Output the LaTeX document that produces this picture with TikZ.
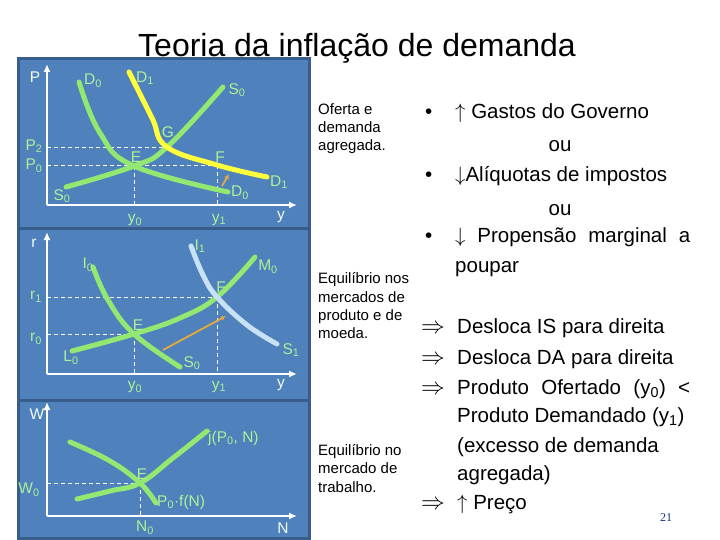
\documentclass[tikz,border=0pt]{standalone}
\usepackage{fontspec}
\setmainfont{Liberation Sans}
\newfontfamily\pagefont{Liberation Serif}
\usetikzlibrary{arrows.meta}
\definecolor{panelblue}{RGB}{79,129,189}
\definecolor{paneledge}{RGB}{56,93,138}
\definecolor{curvegreen}{RGB}{146,232,112}
\definecolor{labelgreen}{RGB}{176,240,150}
\definecolor{curveyellow}{RGB}{255,255,60}
\definecolor{curveblue}{RGB}{200,225,245}
\definecolor{shiftorange}{RGB}{230,170,60}
\definecolor{pagenum}{RGB}{30,50,130}

\begin{document}
\begin{tikzpicture}[x=1pt, y=-1pt,
     axis/.style={draw=white, line width=2.5pt, -{Latex[length=8pt,width=7pt]}},
     curve/.style={draw=curvegreen, line width=5pt, line cap=round},
     guide/.style={draw=white, line width=0.8pt, dash pattern=on 4pt off 3pt},
     lbl/.style={text=labelgreen, inner sep=0pt, font=\fontsize{15.5}{17}\selectfont},
     axlbl/.style={lbl, text=white!85!labelgreen},
     note/.style={anchor=base west, inner sep=0pt, font=\fontsize{15}{17}\selectfont},
     item/.style={anchor=base west, inner sep=0pt, font=\fontsize{20.5}{24}\selectfont},
     shiftarrow/.style={draw=shiftorange, line width=1.8pt, -{Latex[length=5pt,width=5pt]}}]

   \useasboundingbox (0,0) rectangle (720,540);

   % blue panels
   \fill[panelblue] (18,59) rectangle (309,538);
   \draw[paneledge, line width=3pt] (18,59) rectangle (309,538);
   \draw[paneledge, line width=3pt] (18,229) -- (309,229) (18,400) -- (309,400);

   \node[anchor=base, inner sep=0pt, font=\fontsize{32}{36}\selectfont] (title) at (357,57) {Teoria da inflação de demanda};

   % oferta e demanda agregada
   \coordinate (o1) at (47,205);
   \coordinate (E1) at (134,166);
   \coordinate (G1) at (167,147);
   \coordinate (F1) at (217,165);
   \draw[guide] (o1 |- G1) -- (G1) (o1 |- F1) -- (F1) (E1) -- (E1 |- o1) (F1) -- (F1 |- o1);
   \draw[axis] (o1) -- (47,64);
   \draw[axis] (o1) -- (297,205);
   \draw[curve] plot[smooth, tension=0.7] coordinates {(79,82) (100,133) (E1) (228,192)};
   \draw[curve] plot[smooth, tension=0.7] coordinates {(66,187) (E1) (G1) (223,87)};
   \draw[curve, draw=curveyellow] plot[smooth, tension=0.7] coordinates {(129,72) (152,118) (G1) (F1) (267,177)};
   \draw[shiftarrow] (222,186) -- (229,174);
   \node[axlbl] (P) at (35,77) {P};
   \node[lbl] (P2) at (34,146) {P\textsubscript{2}};
   \node[lbl] (P0) at (34,166) {P\textsubscript{0}};
   \node[lbl] (D0a) at (93,81) {D\textsubscript{0}};
   \node[lbl] (D1a) at (145,78) {D\textsubscript{1}};
   \node[lbl] (S0a) at (237,90) {S\textsubscript{0}};
   \node[lbl] (labE1) at (136,157) {E};
   \node[lbl] (labG1) at (168,132) {G};
   \node[lbl] (labF1) at (220,157) {F};
   \node[lbl] (D1b) at (279,182) {D\textsubscript{1}};
   \node[lbl] (D0b) at (240,193) {D\textsubscript{0}};
   \node[lbl] (S0b) at (62,196) {S\textsubscript{0}};
   \node[lbl] (y0a) at (135,220) {y\textsubscript{0}};
   \node[lbl] (y1a) at (219,220) {y\textsubscript{1}};
   \node[axlbl] (ya) at (281,217) {y};

   % IS-LM
   \coordinate (o2) at (47,374);
   \coordinate (E2) at (134,334);
   \coordinate (F2) at (217,297);
   \draw[guide] (o2 |- F2) -- (F2) (o2 |- E2) -- (E2) (E2) -- (E2 |- o2) (F2) -- (F2 |- o2);
   \draw[axis] (o2) -- (47,232);
   \draw[axis] (o2) -- (297,374);
   \draw[curve] plot[smooth, tension=0.7] coordinates {(93,267) (108,300) (E2) (180,367)};
   \draw[curve] plot[smooth, tension=0.7] coordinates {(72,351) (E2) (180,318) (F2) (255,257)};
   \draw[curve, draw=curveblue] plot[smooth, tension=0.7] coordinates {(191,246) (203,275) (F2) (247,325) (277,344)};
   \draw[shiftarrow] (163,350) -- (226,316);
   \node[axlbl] (r) at (34,243) {r};
   \node[lbl] (r1) at (36,297) {r\textsubscript{1}};
   \node[lbl] (r0) at (36,339) {r\textsubscript{0}};
   \node[lbl] (I0) at (88,265) {I\textsubscript{0}};
   \node[lbl] (I1) at (200,246) {I\textsubscript{1}};
   \node[lbl] (M0) at (268,267) {M\textsubscript{0}};
   \node[lbl] (labF2) at (221,287) {F};
   \node[lbl] (labE2) at (138,325) {E};
   \node[lbl] (L0) at (71,358) {L\textsubscript{0}};
   \node[lbl] (S0c) at (192,363) {S\textsubscript{0}};
   \node[lbl] (S1) at (291,350) {S\textsubscript{1}};
   \node[lbl] (y0b) at (135,387) {y\textsubscript{0}};
   \node[lbl] (y1b) at (219,387) {y\textsubscript{1}};
   \node[axlbl] (yb) at (281,385) {y};

   % mercado de trabalho
   \coordinate (o3) at (47,516);
   \coordinate (E3) at (140,483);
   \draw[guide] (o3 |- E3) -- (E3) (E3) -- (E3 |- o3);
   \draw[axis] (o3) -- (47,402);
   \draw[axis] (o3) -- (297,516);
   \draw[curve] plot[smooth, tension=0.7] coordinates {(70,442) (110,461) (E3) (156,503)};
   \draw[curve] plot[smooth, tension=0.7] coordinates {(77,499) (110,491) (E3) (173,458) (207,431)};
   \node[axlbl] (W) at (37,414) {W};
   \node[lbl] (W0) at (29,490) {W\textsubscript{0}};
   \node[lbl] (labE3) at (142,474) {E};
   \node[lbl, anchor=west] (jPN) at (208,438) {j(P\textsubscript{0}, N)};
   \node[lbl, anchor=west] (Pf) at (157,502) {P\textsubscript{0}·f(N)};
   \node[lbl] (N0) at (145,528) {N\textsubscript{0}};
   \node[axlbl] (N) at (283,528) {N};

   % legendas
   \foreach \yy/\txt in {115/Oferta e, 133/demanda, 151/agregada.,
       283/Equilíbrio nos, 302/mercados de, 320/produto e de, 338/moeda.,
       455/Equilíbrio no, 473/mercado de, 492/trabalho.}
     \node[note] at (318,\yy) {\txt};

   % efeitos
   \foreach \yy in {119,182,243}
     \node[item] at (425,\yy) {•};
   \node[item] (gastos) at (455,119) {$\uparrow$ Gastos do Governo};
   \node[item, anchor=base] (ou1) at (560,152) {ou};
   \node[item] (aliq) at (455,182) {$\downarrow$Alíquotas de impostos};
   \node[item, anchor=base] (ou2) at (560,215) {ou};
   \node[item] (prop) at (455,243) {\makebox[235pt][s]{$\downarrow$ Propensão marginal a}};
   \node[item] (poupar) at (455,272) {poupar};
   \foreach \yy in {333,364,394,509}
     \node[item] at (421,\yy) {\scalebox{1.15}{$\Rightarrow$}};
   \node[item] (IS) at (457,333) {Desloca IS para direita};
   \node[item] (DA) at (457,364) {Desloca DA para direita};
   \node[item] (ofert) at (457,394) {\makebox[233pt][s]{Produto Ofertado (y\textsubscript{0}) <}};
   \node[item] (deman) at (457,422) {Produto Demandado (y\textsubscript{1})};
   \node[item] (exc) at (457,452) {(excesso de demanda};
   \node[item] (agreg) at (457,480) {agregada)};
   \node[item] (preco) at (457,509) {$\uparrow$ Preço};
   \node[anchor=base west, inner sep=0pt, text=pagenum, font=\pagefont\fontsize{12}{14}\selectfont] (pg) at (660,521) {21};
\end{tikzpicture}
\end{document}
